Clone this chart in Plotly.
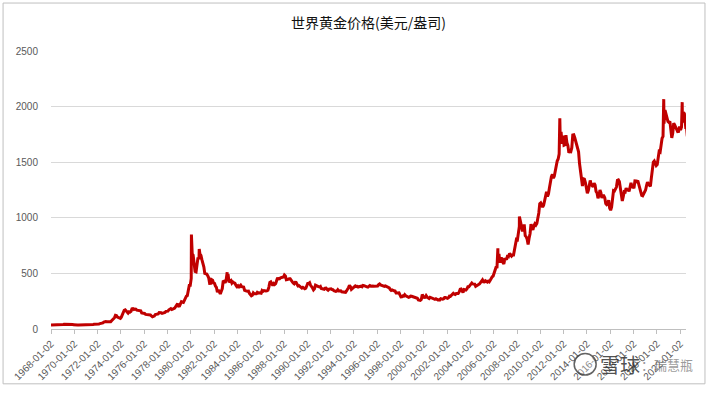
import pandas as pd
import plotly.graph_objects as go

# Monthly gold price (USD/oz), Jan 1968 .. Jul 2022
start_month = "1968-01-15"
gold_monthly = [
    35.2, 35.2, 37.0, 37.7, 40.7, 41.1, 39.4, 39.0, 39.8, 39.3, 39.2, 41.1,
    42.3, 42.7, 43.4, 43.3, 43.5, 41.3, 41.8, 41.0, 40.9, 40.4, 37.4, 35.2,
    34.9, 35.0, 35.1, 35.6, 35.5, 35.4, 35.3, 35.4, 36.2, 37.5, 37.4, 37.4,
    37.9, 38.7, 38.9, 39.0, 40.5, 40.1, 41.0, 42.7, 42.0, 42.5, 42.9, 43.5,
    45.7, 48.3, 48.3, 49.0, 54.6, 62.1, 65.7, 67.0, 65.5, 64.9, 62.9, 63.9,
    65.1, 74.2, 84.4, 90.5, 102.0, 122.5, 120.2, 106.8, 103.0, 100.1, 94.8, 106.7,
    129.2, 150.2, 168.4, 172.2, 163.3, 154.1, 143.0, 154.6, 151.8, 158.8, 181.7, 183.9,
    176.3, 179.6, 178.2, 170.0, 167.2, 164.2, 165.1, 163.0, 144.1, 142.8, 142.8, 139.3,
    131.6, 131.0, 132.6, 128.1, 126.9, 125.7, 117.6, 109.9, 114.3, 117.0, 130.2, 133.9,
    132.3, 136.3, 148.2, 149.2, 146.7, 140.9, 143.3, 144.9, 149.4, 158.6, 162.1, 160.5,
    173.2, 178.2, 183.7, 175.4, 176.3, 183.7, 188.8, 206.0, 212.1, 227.3, 206.1, 207.8,
    227.3, 245.7, 242.1, 239.2, 257.3, 279.1, 294.7, 300.8, 355.1, 391.7, 392.5, 455.1,
    675.3, 665.3, 553.6, 517.4, 513.8, 600.7, 644.3, 626.5, 673.6, 661.2, 623.5, 594.9,
    557.6, 500.5, 499.8, 494.3, 479.7, 460.8, 409.3, 410.1, 443.6, 437.8, 413.4, 410.1,
    384.0, 374.2, 330.4, 350.5, 333.8, 314.9, 339.1, 363.9, 435.6, 421.6, 414.8, 444.3,
    480.5, 492.4, 419.7, 432.8, 437.4, 413.0, 422.7, 416.3, 411.8, 393.6, 381.3, 388.0,
    370.9, 385.4, 394.3, 381.3, 377.3, 377.9, 348.3, 348.0, 341.1, 340.2, 341.2, 320.2,
    302.7, 298.9, 304.1, 324.9, 316.5, 316.4, 316.8, 329.9, 323.6, 326.0, 325.3, 322.4,
    345.6, 339.0, 345.7, 340.4, 342.5, 342.8, 348.7, 376.6, 417.8, 423.4, 398.2, 391.3,
    408.2, 401.0, 408.9, 438.4, 460.2, 449.6, 450.5, 460.5, 460.1, 465.4, 467.3, 486.0,
    477.1, 442.2, 443.6, 451.6, 451.0, 451.6, 437.1, 432.9, 413.4, 406.8, 420.1, 418.7,
    404.4, 387.8, 390.4, 384.0, 371.0, 367.6, 375.0, 365.4, 361.9, 366.9, 394.3, 409.3,
    410.1, 416.7, 393.1, 374.3, 369.0, 352.3, 362.5, 394.8, 389.3, 380.8, 381.7, 378.2,
    383.6, 363.8, 363.3, 358.4, 357.4, 366.7, 367.7, 356.2, 348.7, 358.5, 360.2, 361.1,
    354.5, 353.9, 344.3, 338.6, 337.2, 340.8, 353.1, 342.9, 345.3, 344.4, 335.0, 334.7,
    329.0, 329.3, 330.1, 342.2, 367.2, 371.9, 392.0, 379.8, 355.3, 364.2, 373.7, 383.3,
    386.9, 381.8, 384.1, 377.3, 381.4, 385.6, 385.5, 380.4, 391.6, 389.8, 384.4, 379.3,
    378.6, 376.6, 382.1, 391.0, 385.5, 387.6, 386.2, 383.8, 383.1, 383.1, 386.5, 387.0,
    399.5, 404.8, 396.2, 392.9, 392.1, 385.1, 383.5, 387.5, 383.1, 381.1, 377.9, 369.2,
    354.9, 346.6, 351.8, 344.5, 343.8, 340.8, 324.1, 324.0, 322.8, 324.9, 306.0, 288.7,
    289.1, 297.5, 295.9, 308.4, 299.4, 292.3, 292.9, 284.1, 288.4, 296.1, 294.1, 291.6,
    287.1, 287.3, 286.0, 282.6, 276.4, 261.3, 256.1, 256.7, 264.7, 310.7, 293.2, 283.1,
    284.3, 299.9, 286.4, 279.7, 275.1, 285.7, 281.6, 274.5, 273.7, 270.0, 266.0, 271.5,
    265.5, 261.9, 263.0, 260.5, 272.4, 270.2, 267.5, 272.4, 283.4, 283.1, 276.2, 275.9,
    281.7, 295.5, 294.1, 302.7, 314.5, 321.2, 313.3, 310.3, 319.2, 316.6, 319.2, 333.4,
    356.9, 359.0, 340.6, 328.2, 355.7, 356.4, 351.0, 359.8, 378.9, 378.9, 389.9, 407.6,
    414.0, 405.3, 406.7, 403.0, 383.8, 392.4, 398.1, 400.5, 405.3, 420.5, 439.4, 442.1,
    424.0, 423.4, 434.2, 429.2, 421.9, 430.7, 424.5, 437.9, 456.0, 469.9, 476.7, 510.1,
    549.9, 555.0, 557.1, 610.6, 675.4, 596.2, 633.8, 632.6, 598.2, 585.8, 627.8, 629.8,
    631.2, 664.8, 654.9, 679.4, 667.3, 655.5, 665.3, 665.4, 712.7, 754.6, 806.3, 803.2,
    889.6, 922.3, 968.4, 909.7, 888.7, 889.5, 939.8, 839.0, 829.9, 806.6, 760.9, 816.1,
    858.7, 943.2, 924.3, 890.2, 928.6, 945.7, 934.2, 949.4, 996.6, 1043.2, 1127.0, 1134.7,
    1118.0, 1095.4, 1113.3, 1148.7, 1205.4, 1232.9, 1193.0, 1215.8, 1271.0, 1342.0, 1369.9, 1390.6,
    1356.4, 1372.7, 1424.0, 1473.8, 1510.4, 1528.7, 1572.8, 1755.8, 1771.9, 1665.2, 1739.0, 1652.3,
    1656.1, 1742.6, 1673.8, 1650.1, 1585.5, 1596.7, 1594.3, 1630.3, 1744.5, 1746.6, 1721.6, 1684.8,
    1671.9, 1627.6, 1593.1, 1487.9, 1414.0, 1343.4, 1285.5, 1351.7, 1348.6, 1316.6, 1275.9, 1221.5,
    1244.3, 1300.0, 1336.1, 1299.0, 1287.5, 1279.1, 1310.6, 1295.1, 1236.6, 1222.5, 1175.3, 1200.6,
    1250.8, 1227.1, 1178.6, 1198.9, 1198.6, 1181.5, 1128.3, 1117.9, 1124.8, 1159.3, 1086.4, 1068.3,
    1097.9, 1199.5, 1245.1, 1242.3, 1260.9, 1276.4, 1336.7, 1340.2, 1326.6, 1266.6, 1238.4, 1151.4,
    1192.1, 1234.2, 1231.4, 1266.9, 1246.0, 1260.3, 1236.8, 1283.0, 1314.1, 1279.5, 1281.9, 1264.5,
    1331.3, 1330.7, 1324.7, 1334.8, 1303.0, 1281.6, 1238.0, 1201.7, 1198.4, 1215.4, 1220.7, 1250.4,
    1291.8, 1320.1, 1300.9, 1285.9, 1283.7, 1359.0, 1412.9, 1500.4, 1510.6, 1494.8, 1470.0, 1479.1,
    1560.7, 1597.1, 1591.9, 1683.2, 1715.9, 1732.2, 1846.5, 1968.6, 1921.9, 1900.3, 1866.3, 1858.4,
    1867.0, 1808.2, 1718.2, 1760.0, 1850.3, 1834.6, 1807.8, 1785.3, 1775.1, 1776.9, 1820.6, 1790.3,
    1816.0, 1856.3, 1947.8, 1937.4, 1848.5, 1836.6, 1732.7,
]

# Daily extremes visible in the chart
spike_dates = ["1968-01-02", "1980-01-21", "1980-09-22", "1983-02-15", "2006-05-12",
               "2008-03-17", "2011-09-05", "2020-08-06", "2022-03-08", "2022-07-01"]
spike_values = [35.2, 850.0, 720.0, 510.0, 725.0, 1011.0, 1895.0, 2067.0, 2040.0, 1800.0]

title_text = "世界黄金价格(美元/盎司)"
watermark_brand = "雪球"
watermark_user = "：瑞慧瓶"

dates = pd.date_range(start_month, periods=len(gold_monthly), freq="MS") + pd.Timedelta(days=14)
df = pd.concat([
    pd.DataFrame({"date": dates, "price": gold_monthly}),
    pd.DataFrame({"date": pd.to_datetime(spike_dates), "price": spike_values}),
]).sort_values("date")

fig = go.Figure()
fig.add_trace(go.Scatter(
    x=df["date"], y=df["price"], mode="lines",
    line=dict(color="#C00000", width=3),
    showlegend=False, hoverinfo="skip",
))

tick_font = dict(family="Liberation Sans, Arial, sans-serif", size=10, color="#595959")

W, H = 708, 394
L, R, T, B = 50, 22, 51, 59
PW, PH = W - L - R, H - T - B


def px(x):
    return (x - L) / PW


def py(y):
    return (H - B - y) / PH


fig.update_layout(
    width=W, height=H,
    margin=dict(l=L, r=R, t=T, b=B),
    paper_bgcolor="white", plot_bgcolor="white",
    title=dict(text=title_text, x=0.5, xref="paper", y=1 - 23 / H, yref="container",
               xanchor="center", yanchor="middle",
               font=dict(family="Noto Sans CJK SC, sans-serif", size=14, color="#111111")),
    xaxis=dict(
        type="date", range=["1968-01-02", "2022-07-05"],
        tick0="1968-01-02", dtick="M24", tickformat="%Y-%m-%d",
        tickangle=-45, tickfont=tick_font,
        ticks="outside", ticklen=4, tickcolor="#BFBFBF",
        showline=True, linecolor="#BFBFBF", linewidth=1,
        showgrid=False, zeroline=False,
    ),
    yaxis=dict(
        range=[0, 2500], dtick=500, tick0=0,
        tickfont=tick_font, ticklabelstandoff=12,
        showgrid=True, gridcolor="#D9D9D9", gridwidth=1,
        showline=False, zeroline=False,
    ),
    shapes=[
        dict(type="rect", xref="paper", yref="paper",
             x0=px(2), x1=px(705), y0=py(391), y1=py(2),
             line=dict(color="#BFBFBF", width=1), fillcolor="rgba(0,0,0,0)", layer="below"),
        dict(type="circle", xref="paper", yref="paper",
             x0=px(574), x1=px(596), y0=py(382), y1=py(360),
             line=dict(color="rgba(60,60,60,0.8)", width=1.5), fillcolor="rgba(255,255,255,0.3)"),
    ],
    annotations=[
        dict(text=watermark_brand, xref="paper", yref="paper",
             x=px(598), y=py(371), showarrow=False, xanchor="left", yanchor="middle",
             font=dict(family="Noto Sans CJK SC, sans-serif", size=20, color="rgba(50,50,50,0.85)")),
        dict(text=watermark_user, xref="paper", yref="paper",
             x=px(639), y=py(371), showarrow=False, xanchor="left", yanchor="middle",
             font=dict(family="Noto Sans CJK SC, sans-serif", size=13, color="rgba(110,110,110,0.7)")),
    ],
)

fig.write_html("out.html", config={"displayModeBar": False},
               post_script="document.body.style.margin='0';")
